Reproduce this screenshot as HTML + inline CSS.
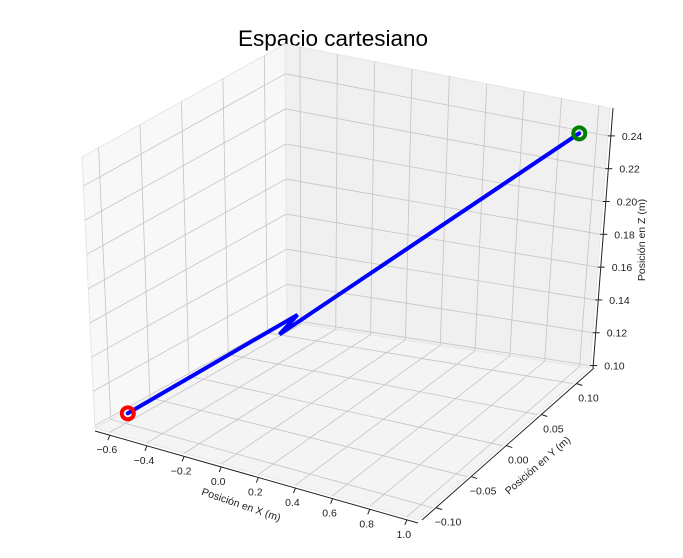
<!DOCTYPE html>
<html><head><meta charset="utf-8"><style>
html,body{margin:0;padding:0;background:#fff}
svg{display:block;font-family:"Liberation Sans","DejaVu Sans",sans-serif}
</style></head><body>
<svg id="chart" width="683" height="558" viewBox="0 0 683 558" xmlns="http://www.w3.org/2000/svg">
<text x="333" y="46" text-anchor="middle" font-size="22.5" fill="#000">Espacio cartesiano</text>
<g id="panes"></g><g id="grid"></g><g id="axes"></g><g id="series"></g>
<text transform="translate(240,508) rotate(19)" text-anchor="middle" font-size="10.5" fill="#222">Posición en X (m)</text>
<text transform="translate(540,468) rotate(-41)" text-anchor="middle" font-size="10.5" fill="#222">Posición en Y (m)</text>
<text transform="translate(645,240) rotate(-90)" text-anchor="middle" font-size="10.5" fill="#222">Posición en Z (m)</text>
</svg>
<script>
const xTicks=[-0.6,-0.4,-0.2,0.0,0.2,0.4,0.6,0.8,1.0];
const yTicks=[-0.10,-0.05,0.00,0.05,0.10];
const zTicks=[0.10,0.12,0.14,0.16,0.18,0.20,0.22,0.24];
const xLabels=["−0.6","−0.4","−0.2","0.0","0.2","0.4","0.6","0.8","1.0"];
const yLabels=["−0.10","−0.05","0.00","0.05","0.10"];
const zLabels=["0.10","0.12","0.14","0.16","0.18","0.20","0.22","0.24"];
const pathX=[-0.55,0.043,-0.021,1.0];
const pathY=[-0.108,-0.029,-0.037,0.1];
const pathZ=[0.108,0.161,0.150,0.250];

const XL=[-0.68,1.06],YL=[-0.12,0.125],ZL=[0.0985,0.257];
const B={a:[95,428],b:[418,520],c:[287,322],d:[590,368]};
const T={a:[82,157],b:[427,267],c:[285,44],d:[610,108]};
function bil(Q,u,v){
  const p=[Q.a[0]+(Q.b[0]-Q.a[0])*u,Q.a[1]+(Q.b[1]-Q.a[1])*u];
  const q=[Q.c[0]+(Q.d[0]-Q.c[0])*u,Q.c[1]+(Q.d[1]-Q.c[1])*u];
  return [p[0]+(q[0]-p[0])*v,p[1]+(q[1]-p[1])*v];
}
function P(x,y,z){
  const u=(x-XL[0])/(XL[1]-XL[0]),v=(y-YL[0])/(YL[1]-YL[0]),w=(z-ZL[0])/(ZL[1]-ZL[0]);
  const b=bil(B,u,v),t=bil(T,u,v);
  return [b[0]+(t[0]-b[0])*w,b[1]+(t[1]-b[1])*w];
}
const NS="http://www.w3.org/2000/svg";
function mk(tag,attrs,parent){const e=document.createElementNS(NS,tag);for(const k in attrs)e.setAttribute(k,attrs[k]);document.getElementById(parent).appendChild(e);return e;}
function poly(pts){return pts.map(p=>p[0].toFixed(1)+","+p[1].toFixed(1)).join(" ");}
function line(a,b,parent,stroke,w){return mk("line",{x1:a[0],y1:a[1],x2:b[0],y2:b[1],stroke:stroke,"stroke-width":w},parent);}

let e;
e=mk("polygon",{points:poly([P(XL[0],YL[0],ZL[0]),P(XL[0],YL[1],ZL[0]),P(XL[0],YL[1],ZL[1]),P(XL[0],YL[0],ZL[1])]),fill:"#f8f8f8",stroke:"#e6e6e6"},"panes");


e=mk("polygon",{points:poly([P(XL[0],YL[1],ZL[0]),P(XL[1],YL[1],ZL[0]),P(XL[1],YL[1],ZL[1]),P(XL[0],YL[1],ZL[1])]),fill:"#f0f0f0",stroke:"#e6e6e6"},"panes");


e=mk("polygon",{points:poly([P(XL[0],YL[0],ZL[0]),P(XL[1],YL[0],ZL[0]),P(XL[1],YL[1],ZL[0]),P(XL[0],YL[1],ZL[0])]),fill:"#f4f4f4",stroke:"#e6e6e6"},"panes");



const G="#c4c4c4";
xTicks.forEach(x=>{
  e=line(P(x,YL[0],ZL[0]),P(x,YL[1],ZL[0]),"grid",G,0.8);
  
  
  e=line(P(x,YL[1],ZL[0]),P(x,YL[1],ZL[1]),"grid",G,0.8);
  
  
});
yTicks.forEach(y=>{
  e=line(P(XL[0],y,ZL[0]),P(XL[1],y,ZL[0]),"grid",G,0.8);
  
  
  e=line(P(XL[0],y,ZL[0]),P(XL[0],y,ZL[1]),"grid",G,0.8);
  
  
});
zTicks.forEach(z=>{
  e=line(P(XL[0],YL[0],z),P(XL[0],YL[1],z),"grid",G,0.8);
  
  
  e=line(P(XL[0],YL[1],z),P(XL[1],YL[1],z),"grid",G,0.8);
  
  
});

function off(p,dx,dy){return [p[0]+dx,p[1]+dy];}
e=line(off(P(XL[0],YL[0],ZL[0]),0,3),off(P(XL[1],YL[0],ZL[0]),0,3),"axes","#222",1);


e=line(off(P(XL[1],YL[0],ZL[0]),4,0),off(P(XL[1],YL[1],ZL[0]),4,0),"axes","#222",1);


e=line(off(P(XL[1],YL[1],ZL[0]),3,0),off(P(XL[1],YL[1],ZL[1]),3,0),"axes","#222",1);



xTicks.forEach((x,i)=>{
  const p=off(P(x,YL[0],ZL[0]),0,3);
  e=line(p,[p[0]-2,p[1]+5],"axes","#222",1);
  
  
  e=mk("text",{x:p[0]-3,y:p[1]+18,"text-anchor":"middle","font-size":"10.5",fill:"#222"},"axes");
  e.textContent=xLabels[i];
  
  
});
yTicks.forEach((y,i)=>{
  const p=off(P(XL[1],y,ZL[0]),4,0);
  e=line(p,[p[0]+6,p[1]+2],"axes","#222",1);
  
  
  e=mk("text",{x:p[0]+12,y:p[1]+18,"text-anchor":"middle","font-size":"10.5",fill:"#222"},"axes");
  e.textContent=yLabels[i];
  
  
});
zTicks.forEach((z,i)=>{
  const p=off(P(XL[1],YL[1],z),3,0);
  e=line([p[0]-3,p[1]],[p[0]+4,p[1]],"axes","#222",1);
  
  
  e=mk("text",{x:p[0]+11,y:p[1]+4,"text-anchor":"start","font-size":"10.5",fill:"#222"},"axes");
  e.textContent=zLabels[i];
  
  
});

const pts=pathX.map((x,i)=>P(x,pathY[i],pathZ[i]));
e=mk("polyline",{points:poly(pts),fill:"none",stroke:"#0000ff","stroke-width":4,"stroke-linejoin":"miter","stroke-linecap":"round"},"series");


const s=pts[0],f=pts[pts.length-1];
e=mk("circle",{cx:s[0],cy:s[1],r:6,fill:"none",stroke:"#ff0000","stroke-width":4},"series");


e=mk("circle",{cx:f[0],cy:f[1],r:6,fill:"none",stroke:"#008000","stroke-width":4},"series");


</script>
</body></html>
